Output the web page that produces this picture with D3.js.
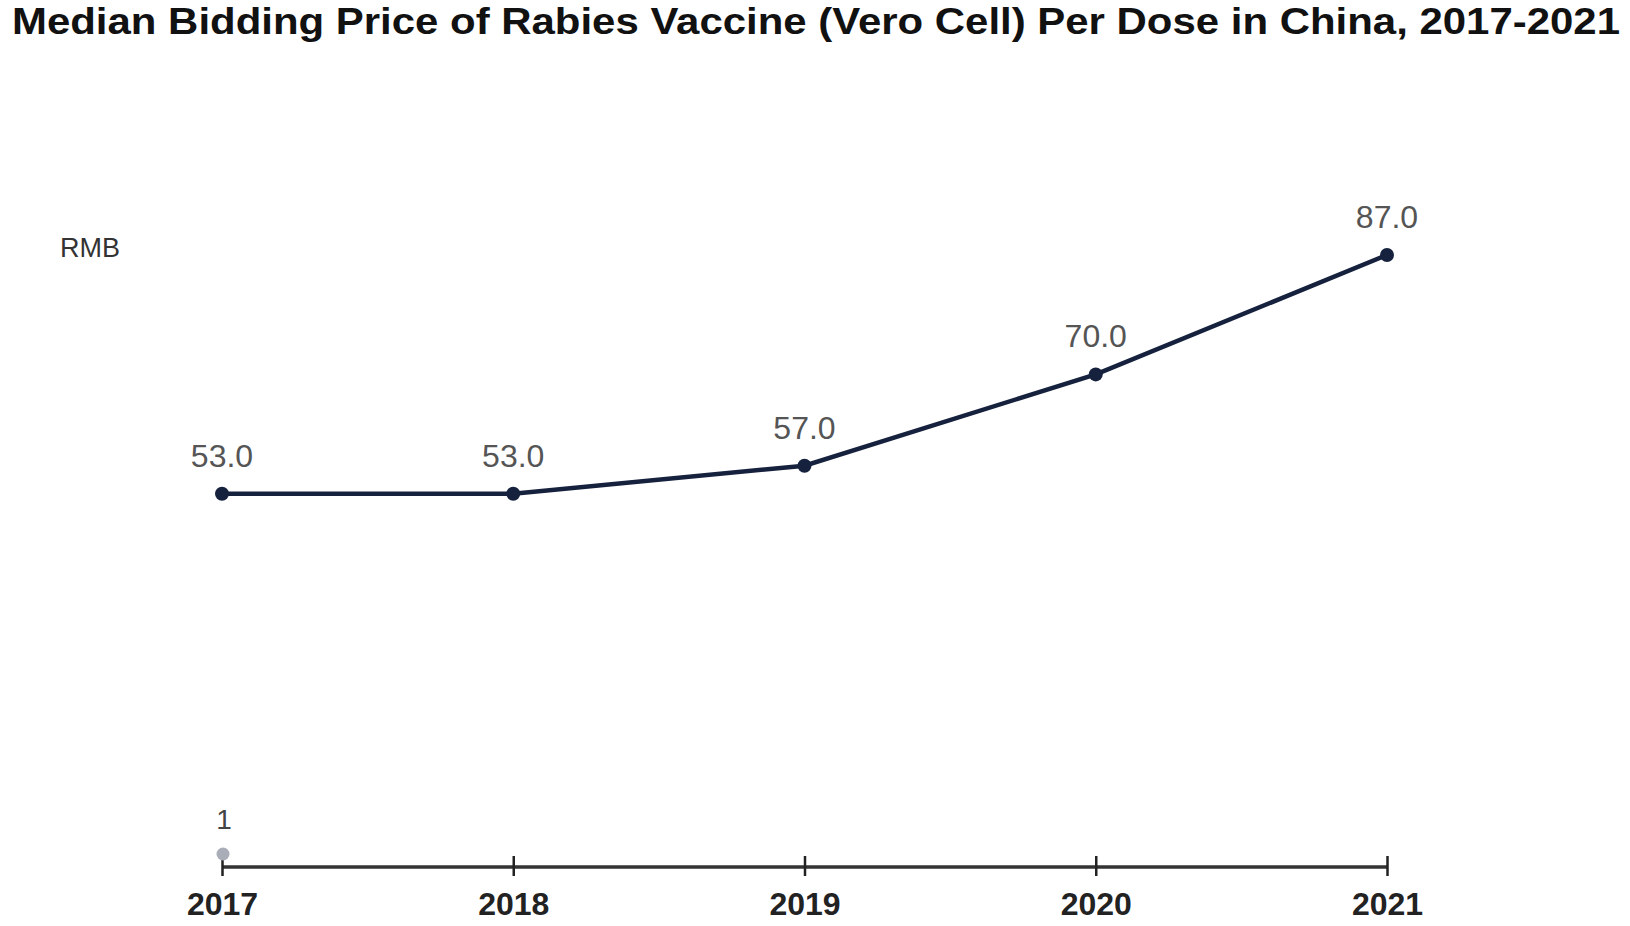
<!DOCTYPE html>
<html><head><meta charset="utf-8">
<script src="https://cdn.jsdelivr.net/npm/d3@7"></script>
<style>body{margin:0;background:#fff;}svg{display:block;}</style>
</head><body>
<svg id="chart" width="1630" height="926"></svg>
<script>
const years = ["2017","2018","2019","2020","2021"];
const prices = [53.0, 53.0, 57.0, 70.0, 87.0];
const strayYears = ["2017"];
const strayValues = [1];
const titleText = "Median Bidding Price of Rabies Vaccine (Vero Cell) Per Dose in China, 2017-2021";
const unitText = "RMB";

const svg = d3.select("#chart");
const x = d3.scalePoint().domain(years).range([222, 1387]);
const y = d3.scaleLinear().domain([0, 87]).range([866, 255]);

svg.append("text").attr("x", 12).attr("y", 34)
  .attr("textLength", 1608).attr("lengthAdjust", "spacingAndGlyphs")
  .style("font-family", "Liberation Sans, Arial, sans-serif").style("font-weight", "bold")
  .style("font-size", "36px").attr("fill", "#111").text(titleText);

svg.append("text").attr("x", 60).attr("y", 257)
  .style("font-family", "Liberation Sans, Arial, sans-serif")
  .style("font-size", "27px").attr("fill", "#333").text(unitText);

const axis = svg.append("g").attr("transform", "translate(0,867)")
  .call(d3.axisBottom(x).tickSizeInner(9).tickSizeOuter(0).tickPadding(16));
axis.select(".domain").attr("stroke", "#333").attr("stroke-width", 3.5).attr("d", `M${x(years[0])},0H${x(years[years.length-1])}`);
axis.selectAll(".tick line").attr("y1", -11).attr("y2", 9).attr("stroke", "#222").attr("stroke-width", 2.5);
axis.selectAll(".tick text")
  .style("font-family", "Liberation Sans, Arial, sans-serif").style("font-weight", "bold")
  .style("font-size", "32px").attr("fill", "#222").attr("dy", "0.71em");

const data = years.map((yr, i) => ({yr, v: prices[i]}));
svg.append("path").datum(data)
  .attr("fill", "none").attr("stroke", "#15213d").attr("stroke-width", 4.5)
  .attr("d", d3.line().x(d => x(d.yr)).y(d => y(d.v)));
svg.selectAll("circle.pt").data(data).join("circle").attr("class", "pt")
  .attr("cx", d => x(d.yr)).attr("cy", d => y(d.v)).attr("r", 7).attr("fill", "#15213d");
svg.selectAll("text.lbl").data(data).join("text").attr("class", "lbl")
  .attr("x", d => x(d.yr)).attr("y", d => y(d.v) - 27).attr("text-anchor", "middle")
  .style("font-family", "Liberation Sans, Arial, sans-serif")
  .style("font-size", "32px").attr("fill", "#555").text(d => d.v.toFixed(1));

const stray = strayYears.map((yr, i) => ({yr, v: strayValues[i]}));
svg.selectAll("circle.stray").data(stray).join("circle").attr("class", "stray")
  .attr("cx", d => x(d.yr) + 1).attr("cy", d => y(d.v) - 5).attr("r", 6.5).attr("fill", "#a9adb8");
svg.selectAll("text.stray").data(stray).join("text").attr("class", "stray")
  .attr("x", d => x(d.yr) + 2).attr("y", d => y(d.v) - 30).attr("text-anchor", "middle")
  .style("font-family", "Liberation Sans, Arial, sans-serif")
  .style("font-size", "28px").attr("fill", "#444").text(d => d.v);
</script>
</body></html>
